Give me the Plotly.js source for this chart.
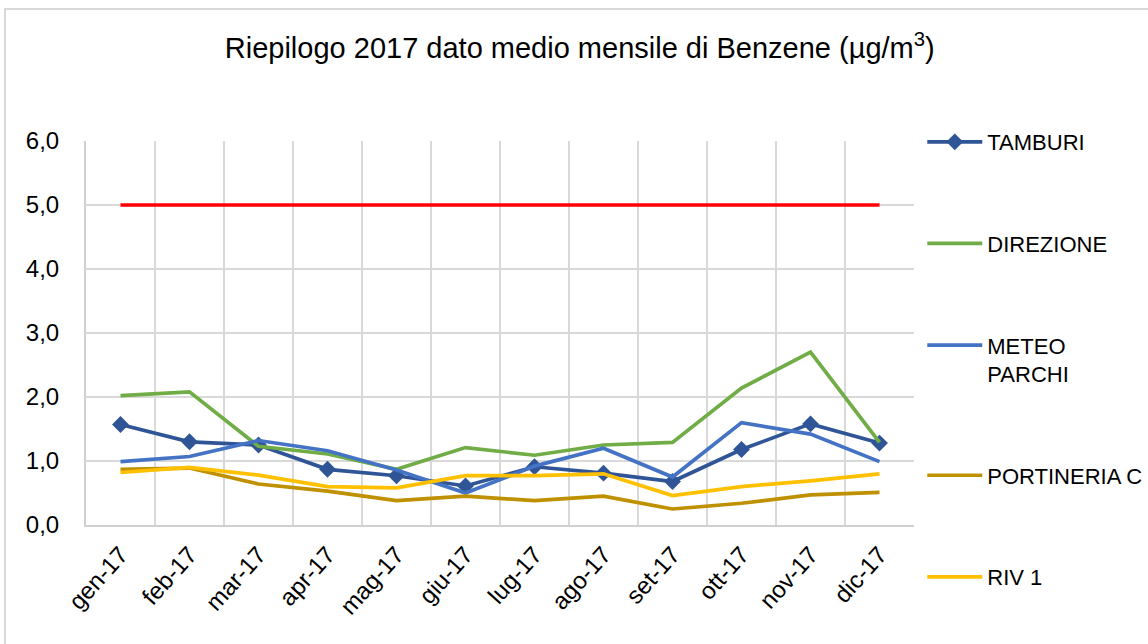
<!DOCTYPE html>
<html>
<head>
<meta charset="utf-8">
<script src="https://cdn.plot.ly/plotly-3.0.1.min.js"></script>
<style>
html,body{margin:0;padding:0;background:#fff;overflow:hidden;}
#frame{position:absolute;left:4px;top:8px;width:1160px;height:660px;border:2px solid #d9d9d9;box-sizing:border-box;}
#chart{position:absolute;left:0;top:0;width:1148px;height:644px;}
</style>
</head>
<body>
<div id="frame"></div>
<div id="chart"></div>
<script>
const months = ['gen-17','feb-17','mar-17','apr-17','mag-17','giu-17','lug-17','ago-17','set-17','ott-17','nov-17','dic-17'];
const tamburi    = [1.57,1.30,1.25,0.87,0.77,0.61,0.91,0.81,0.68,1.18,1.58,1.28];
const direzione  = [2.02,2.08,1.23,1.11,0.87,1.21,1.09,1.25,1.29,2.14,2.70,1.29];
const meteoParchi= [0.99,1.07,1.32,1.16,0.86,0.50,0.92,1.20,0.75,1.60,1.42,0.99];
const portineria = [0.87,0.89,0.64,0.53,0.38,0.45,0.38,0.45,0.25,0.34,0.47,0.51];
const riv1       = [0.82,0.90,0.78,0.60,0.58,0.77,0.77,0.80,0.46,0.60,0.69,0.80];
const limite     = [5,5,5,5,5,5,5,5,5,5,5,5];
const yTicks = [0,1,2,3,4,5,6];
const yTickText = ['0,0','1,0','2,0','3,0','4,0','5,0','6,0'];

const font = 'Liberation Sans, Arial, sans-serif';
const traces = [
  {name:'TAMBURI', y:tamburi, color:'#2F5597', marker:true},
  {name:'DIREZIONE', y:direzione, color:'#70AD47'},
  {name:'METEO<br>PARCHI', y:meteoParchi, color:'#4472C4'},
  {name:'PORTINERIA C', y:portineria, color:'#BF9000'},
  {name:'RIV 1', y:riv1, color:'#FFC000'},
  {name:'Limite', y:limite, color:'#FF0000', showlegend:false}
].map((t,i)=>({
  type:'scatter',
  x:months, y:t.y, name:t.name,
  mode: t.marker ? 'lines+markers' : 'lines',
  line:{color:t.color, width:3.7},
  marker:{symbol:'diamond', size:13, color:t.color},
  showlegend: t.showlegend !== false,
  legendgroup:'g'+i,
  hoverinfo:'skip'
}));

const layout = {
  width:1148, height:644,
  margin:{l:86, r:234, t:141, b:119, autoexpand:false},
  paper_bgcolor:'rgba(0,0,0,0)', plot_bgcolor:'#fff',
  title:{text:'Riepilogo 2017 dato medio mensile di Benzene (µg/m<sup>3</sup>)',
         font:{family:font, size:29, color:'#000'}, x:0.505, xanchor:'center', y:0.925, yanchor:'middle'},
  xaxis:{type:'category', tickson:'boundaries', showgrid:true, gridcolor:'#d9d9d9', gridwidth:1.3,
         showline:true, linecolor:'#d0d0d0', linewidth:2, ticks:'', tickangle:-48,
         tickfont:{family:font, size:24, color:'#000'}, range:[-0.5,11.5], zeroline:false, automargin:false,
         ticklabelstandoff:4},
  yaxis:{range:[0,6], tickvals:yTicks, ticktext:yTickText, showgrid:true, gridcolor:'#d9d9d9', gridwidth:1.3,
         showline:true, linecolor:'#d0d0d0', linewidth:2, ticks:'', zeroline:false, automargin:false,
         tickfont:{family:font, size:24, color:'#000'}, ticklabelstandoff:20},
  legend:{x:1.01, xanchor:'left', y:1.052, yanchor:'top', traceorder:'grouped', tracegroupgap:70,
          maxheight:620,
          font:{family:font, size:22, color:'#000'}, itemwidth:55, valign:'top', bgcolor:'rgba(0,0,0,0)'},
  showlegend:true
};
Plotly.newPlot('chart', traces, layout, {displayModeBar:false, staticPlot:true});
</script>
</body>
</html>
